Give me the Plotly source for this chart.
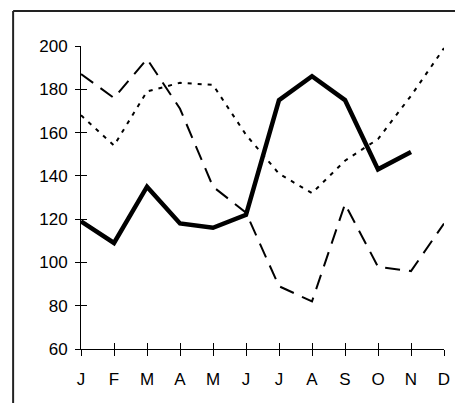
import plotly.graph_objects as go

months = ["J", "F", "M", "A", "M", "J", "J", "A", "S", "O", "N", "D"]
series_solid = [119, 109, 135, 118, 116, 122, 175, 186, 175, 143, 151, None]
series_dashed = [187, 176, 194, 171, 135, 123, 89, 82, 127, 98, 96, 118]
series_dotted = [168, 154, 179, 183, 182, 159, 141, 132, 147, 157, 177, 199]
y_ticks = [60, 80, 100, 120, 140, 160, 180, 200]

x = list(range(len(months)))

fig = go.Figure()
fig.add_trace(go.Scatter(x=x, y=series_dotted, mode="lines",
                         line=dict(color="black", width=2, dash="4px,6px")))
fig.add_trace(go.Scatter(x=x, y=series_dashed, mode="lines",
                         line=dict(color="black", width=2, dash="15px,9px")))
fig.add_trace(go.Scatter(x=x, y=series_solid, mode="lines",
                         line=dict(color="black", width=4.5)))
# invisible trace to anchor overlay axes (inside ticks)
fig.add_trace(go.Scatter(x=x, y=series_dashed, xaxis="x2", yaxis="y2",
                         mode="lines", line=dict(width=0), hoverinfo="skip",
                         showlegend=False, opacity=0))

font = dict(family="Liberation Sans, Arial, sans-serif", size=17, color="black")

fig.update_layout(
    width=455, height=403,
    margin=dict(l=81, r=11, t=46, b=54, autoexpand=False),
    paper_bgcolor="white", plot_bgcolor="white",
    showlegend=False,
    hovermode=False,
    font=font,
    xaxis=dict(range=[0, len(months) - 1], tickvals=x, ticktext=months,
               showgrid=False, zeroline=False, showline=True, linecolor="black",
               linewidth=1, ticks="outside", ticklen=6, tickcolor="black",
               tickwidth=1, tickfont=font, ticklabelstandoff=9, automargin=False),
    yaxis=dict(range=[60, 200], tickvals=y_ticks,
               showgrid=False, zeroline=False, showline=True, linecolor="black",
               linewidth=1, ticks="outside", ticklen=5, tickcolor="black",
               tickwidth=1, tickfont=font, ticklabelstandoff=4, automargin=False),
    xaxis2=dict(range=[0, len(months) - 1], tickvals=x, overlaying="x",
                showticklabels=False, showgrid=False, zeroline=False,
                ticks="inside", ticklen=6, tickcolor="black", tickwidth=1,
                automargin=False),
    yaxis2=dict(range=[60, 200], tickvals=y_ticks, overlaying="y",
                showticklabels=False, showgrid=False, zeroline=False,
                ticks="inside", ticklen=6, tickcolor="black", tickwidth=1,
                automargin=False),
    shapes=[
        dict(type="line", xref="paper", yref="paper",
             x0=-0.187, x1=-0.187, y0=-0.5, y1=1.1155,
             line=dict(color="#222222", width=2), layer="below"),
        dict(type="line", xref="paper", yref="paper",
             x0=-0.187, x1=1.5, y0=1.1155, y1=1.1155,
             line=dict(color="#222222", width=2), layer="below"),
    ],
)

fig.write_html(
    "out.html",
    config={"displayModeBar": False, "staticPlot": True},
    post_script="document.body.style.margin='0';"
                "document.documentElement.style.overflow='hidden';",
)
